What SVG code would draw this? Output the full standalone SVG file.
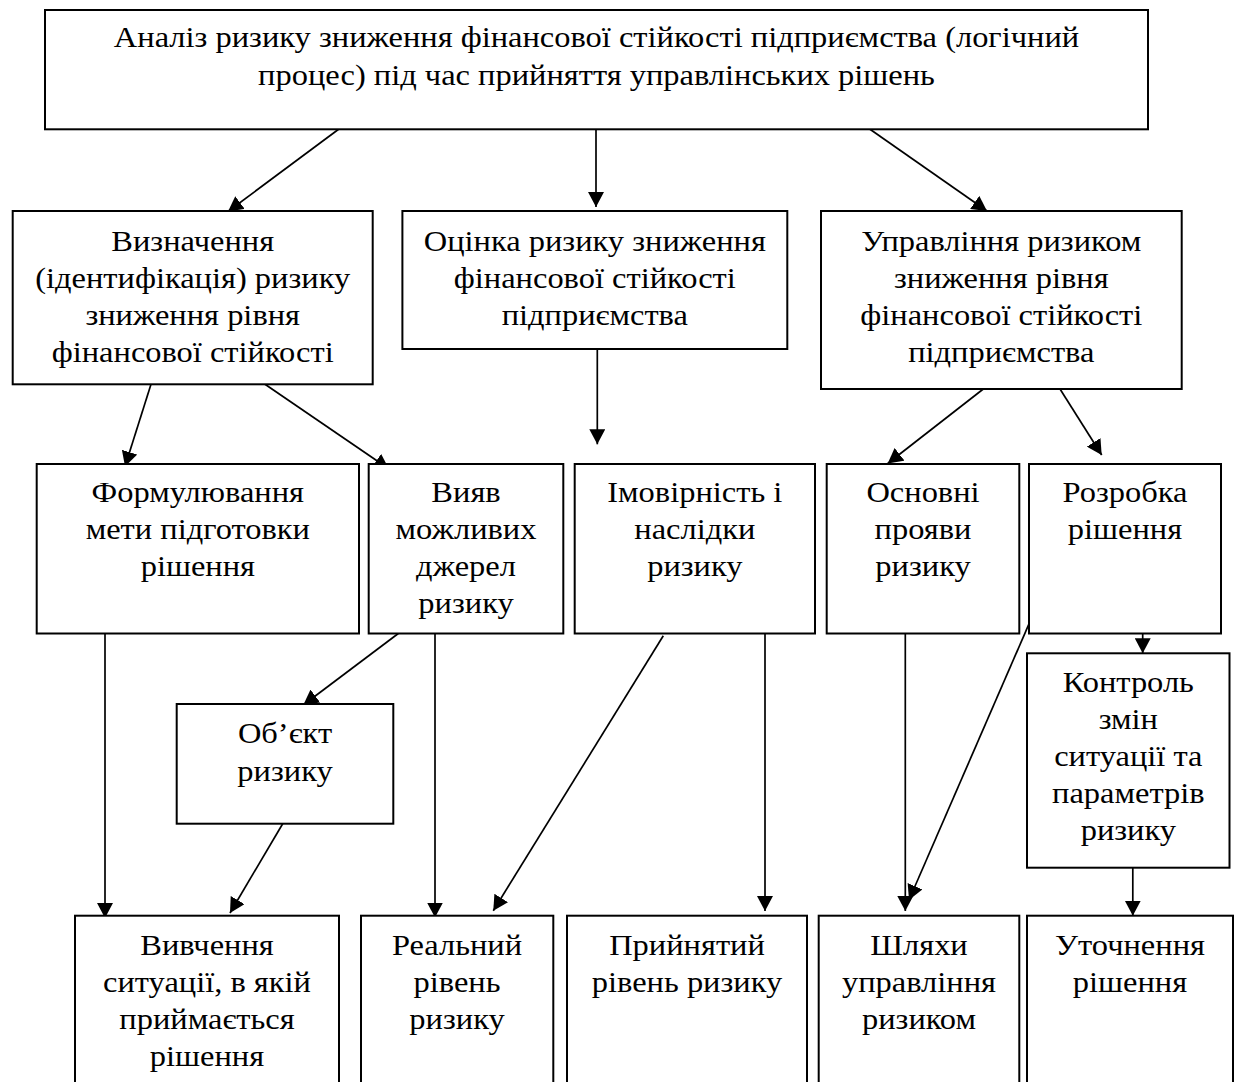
<svg xmlns="http://www.w3.org/2000/svg" width="1235" height="1082" viewBox="0 0 1235 1082">
<style>
.box{fill:#fff;stroke:#000;stroke-width:2}
.t{font-family:"Liberation Serif","Times New Roman",serif;font-size:29px;fill:#000;text-anchor:middle}
.c{stroke:#000;stroke-width:1.7;fill:none;marker-end:url(#ah)}
</style>
<defs>
<marker id="ah" markerUnits="userSpaceOnUse" markerWidth="16" markerHeight="16" refX="15" refY="8" orient="auto" viewBox="0 0 16 16">
<path d="M0,0 L15,8 L0,16 z" fill="#000"/>
</marker>
</defs>
<rect width="1235" height="1082" fill="#fff"/>
<g id="connectors">
<line class="c" x1="338.6" y1="129.3" x2="228" y2="211.5"/>
<line class="c" x1="596" y1="129.3" x2="596" y2="207"/>
<line class="c" x1="870" y1="129.3" x2="987" y2="211"/>
<line class="c" x1="151" y1="384.3" x2="125" y2="466.5"/>
<line class="c" x1="265" y1="384.3" x2="389" y2="469"/>
<line class="c" x1="597.3" y1="349" x2="597.3" y2="444.3"/>
<line class="c" x1="983.3" y1="389" x2="887.7" y2="463.5"/>
<line class="c" x1="1060" y1="389" x2="1101.7" y2="455"/>
<line class="c" x1="105" y1="633.5" x2="105" y2="918"/>
<line class="c" x1="398.3" y1="633.5" x2="303.3" y2="705"/>
<line class="c" x1="282.7" y1="823.7" x2="230" y2="913"/>
<line class="c" x1="435" y1="633.5" x2="435" y2="917.5"/>
<line class="c" x1="663.3" y1="635.7" x2="493.3" y2="910.7"/>
<line class="c" x1="765" y1="633.5" x2="765" y2="911"/>
<line class="c" x1="905.3" y1="633.5" x2="905.3" y2="911"/>
<line class="c" x1="1031.7" y1="617.7" x2="909" y2="900"/>
<line class="c" x1="1142.7" y1="633.5" x2="1142.7" y2="653.3"/>
<line class="c" x1="1132.8" y1="867.7" x2="1132.8" y2="915.7"/>
</g>
<g id="n-top">
<rect class="box" x="45" y="10" width="1103" height="119.3"/>
<text class="t" transform="translate(596.5 0) scale(1.12 1)"><tspan x="0" y="46.7">Аналіз ризику зниження фінансової стійкості підприємства (логічний</tspan><tspan x="0" y="85">процес) під час прийняття управлінських рішень</tspan></text>
</g>
<g id="n-vyznachennya">
<rect class="box" x="12.7" y="211" width="360" height="173.3"/>
<text class="t" transform="translate(192.7 0) scale(1.12 1)"><tspan x="0" y="251.5">Визначення</tspan><tspan x="0" y="288.3">(ідентифікація) ризику</tspan><tspan x="0" y="325.1">зниження рівня</tspan><tspan x="0" y="361.8">фінансової стійкості</tspan></text>
</g>
<g id="n-otsinka">
<rect class="box" x="402.4" y="211" width="384.9" height="138"/>
<text class="t" transform="translate(594.8 0) scale(1.12 1)"><tspan x="0" y="251.5">Оцінка ризику зниження</tspan><tspan x="0" y="288.3">фінансової стійкості</tspan><tspan x="0" y="325.1">підприємства</tspan></text>
</g>
<g id="n-upravlinnya">
<rect class="box" x="821" y="211" width="360.7" height="178"/>
<text class="t" transform="translate(1001.3 0) scale(1.12 1)"><tspan x="0" y="251.5">Управління ризиком</tspan><tspan x="0" y="288.3">зниження рівня</tspan><tspan x="0" y="325.1">фінансової стійкості</tspan><tspan x="0" y="361.8">підприємства</tspan></text>
</g>
<g id="n-formulyuvannya">
<rect class="box" x="36.7" y="464" width="322.3" height="169.5"/>
<text class="t" transform="translate(197.8 0) scale(1.12 1)"><tspan x="0" y="502">Формулювання</tspan><tspan x="0" y="539">мети підготовки</tspan><tspan x="0" y="576">рішення</tspan></text>
</g>
<g id="n-vyyav">
<rect class="box" x="368.7" y="464" width="194.6" height="169.5"/>
<text class="t" transform="translate(466 0) scale(1.12 1)"><tspan x="0" y="502">Вияв</tspan><tspan x="0" y="539">можливих</tspan><tspan x="0" y="576">джерел</tspan><tspan x="0" y="613">ризику</tspan></text>
</g>
<g id="n-imovirnist">
<rect class="box" x="574.7" y="464" width="240.3" height="169.5"/>
<text class="t" transform="translate(694.8 0) scale(1.12 1)"><tspan x="0" y="502">Імовірність і</tspan><tspan x="0" y="539">наслідки</tspan><tspan x="0" y="576">ризику</tspan></text>
</g>
<g id="n-osnovni">
<rect class="box" x="826.7" y="464" width="192.6" height="169.5"/>
<text class="t" transform="translate(923 0) scale(1.12 1)"><tspan x="0" y="502">Основні</tspan><tspan x="0" y="539">прояви</tspan><tspan x="0" y="576">ризику</tspan></text>
</g>
<g id="n-rozrobka">
<rect class="box" x="1029" y="464" width="192" height="169.5"/>
<text class="t" transform="translate(1125 0) scale(1.12 1)"><tspan x="0" y="502">Розробка</tspan><tspan x="0" y="539">рішення</tspan></text>
</g>
<g id="n-obyekt">
<rect class="box" x="176.7" y="704" width="216.6" height="119.7"/>
<text class="t" transform="translate(285 0) scale(1.12 1)"><tspan x="0" y="743.3">Об’єкт</tspan><tspan x="0" y="781.3">ризику</tspan></text>
</g>
<g id="n-kontrol">
<rect class="box" x="1027" y="653.3" width="202.5" height="214.4"/>
<text class="t" transform="translate(1128.3 0) scale(1.12 1)"><tspan x="0" y="692.5">Контроль</tspan><tspan x="0" y="729.5">змін</tspan><tspan x="0" y="766.5">ситуації та</tspan><tspan x="0" y="803.5">параметрів</tspan><tspan x="0" y="840.5">ризику</tspan></text>
</g>
<g id="n-vyvchennya">
<rect class="box" x="75" y="915.7" width="264" height="180"/>
<text class="t" transform="translate(207 0) scale(1.12 1)"><tspan x="0" y="955">Вивчення</tspan><tspan x="0" y="992">ситуації, в якій</tspan><tspan x="0" y="1029">приймається</tspan><tspan x="0" y="1066">рішення</tspan></text>
</g>
<g id="n-realnyi">
<rect class="box" x="361" y="915.7" width="192.3" height="180"/>
<text class="t" transform="translate(457 0) scale(1.12 1)"><tspan x="0" y="955">Реальний</tspan><tspan x="0" y="992">рівень</tspan><tspan x="0" y="1029">ризику</tspan></text>
</g>
<g id="n-pryinyatyi">
<rect class="box" x="567" y="915.7" width="240" height="180"/>
<text class="t" transform="translate(687 0) scale(1.12 1)"><tspan x="0" y="955">Прийнятий</tspan><tspan x="0" y="992">рівень ризику</tspan></text>
</g>
<g id="n-shlyakhy">
<rect class="box" x="818.7" y="915.7" width="200.6" height="180"/>
<text class="t" transform="translate(919 0) scale(1.12 1)"><tspan x="0" y="955">Шляхи</tspan><tspan x="0" y="992">управління</tspan><tspan x="0" y="1029">ризиком</tspan></text>
</g>
<g id="n-utochnennya">
<rect class="box" x="1027" y="915.7" width="206" height="180"/>
<text class="t" transform="translate(1130 0) scale(1.12 1)"><tspan x="0" y="955">Уточнення</tspan><tspan x="0" y="992">рішення</tspan></text>
</g>
</svg>
